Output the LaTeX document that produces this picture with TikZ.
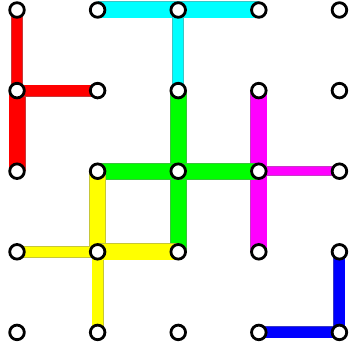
\documentclass[tikz,border=0pt]{standalone}
\usepackage{xcolor}
\usepackage{tikz}
\usetikzlibrary{backgrounds}

\definecolor{barred}{RGB}{255,0,0}
\definecolor{barcyan}{RGB}{0,255,255}
\definecolor{bargreen}{RGB}{0,255,0}
\definecolor{barmagenta}{RGB}{255,0,255}
\definecolor{baryellow}{RGB}{255,255,0}
\definecolor{barblue}{RGB}{0,0,255}

\begin{document}
\begin{tikzpicture}[
    x=80.6pt, y=80.6pt,
    hole/.style={circle, draw=black, fill=white, line width=2.8pt,
                 minimum size=14.6pt, inner sep=0pt},
    widebar/.style={line width=0.8pt, double distance=15.4pt},
    slimbar/.style={line width=0.8pt, double distance=10.4pt},
    tint/.style={draw=#1!55!gray, double=#1}
]
    \useasboundingbox (-0.211, 0.124) rectangle (4.132, -4.243);

    \node[hole] (v11) at (0, 0)  {};
    \node[hole] (v12) at (1, 0)  {};
    \node[hole] (v13) at (2, 0)  {};
    \node[hole] (v14) at (3, 0)  {};
    \node[hole] (v15) at (4, 0)  {};
    \node[hole] (v21) at (0, -1) {};
    \node[hole] (v22) at (1, -1) {};
    \node[hole] (v23) at (2, -1) {};
    \node[hole] (v24) at (3, -1) {};
    \node[hole] (v25) at (4, -1) {};
    \node[hole] (v31) at (0, -2) {};
    \node[hole] (v32) at (1, -2) {};
    \node[hole] (v33) at (2, -2) {};
    \node[hole] (v34) at (3, -2) {};
    \node[hole] (v35) at (4, -2) {};
    \node[hole] (v41) at (0, -3) {};
    \node[hole] (v42) at (1, -3) {};
    \node[hole] (v43) at (2, -3) {};
    \node[hole] (v44) at (3, -3) {};
    \node[hole] (v45) at (4, -3) {};
    \node[hole] (v51) at (0, -4) {};
    \node[hole] (v52) at (1, -4) {};
    \node[hole] (v53) at (2, -4) {};
    \node[hole] (v54) at (3, -4) {};
    \node[hole] (v55) at (4, -4) {};

    % Bars under the holes
    \begin{scope}[on background layer]
    \draw[slimbar, tint=barred] (v11.center) -- (v21.center);
    \draw[widebar, tint=barred] (v21.center) -- (v31.center);
    \draw[slimbar, tint=barred] (v21.center) -- (v22.center);

    \draw[widebar, tint=barcyan] (v12.center) -- (v13.center);
    \draw[widebar, tint=barcyan] (v13.center) -- (v14.center);
    \draw[slimbar, tint=barcyan] (v13.center) -- (v23.center);

    \draw[widebar, tint=barmagenta] (v24.center) -- (v34.center);
    \draw[widebar, tint=barmagenta] (v34.center) -- (v44.center);
    \draw[slimbar, tint=barmagenta, double distance=8.4pt] (v34.center) -- (v35.center);

    \draw[widebar, tint=bargreen] (v23.center) -- (v33.center);
    \draw[widebar, tint=bargreen] (v33.center) -- (v43.center);
    \draw[widebar, tint=bargreen] (v32.center) -- (v33.center);
    \draw[widebar, tint=bargreen] (v33.center) -- (v34.center);

    \draw[widebar, tint=baryellow] (v32.center) -- (v42.center);
    \draw[slimbar, tint=baryellow] (v42.center) -- (v52.center);
    \draw[slimbar, tint=baryellow] (v41.center) -- (v42.center);
    \draw[widebar, tint=baryellow] (v42.center) -- (v43.center);

    \draw[slimbar, tint=barblue] (v45.center) -- (v55.center);
    \draw[slimbar, tint=barblue] (v54.center) -- (v55.center);
    \end{scope}
\end{tikzpicture}
\end{document}
